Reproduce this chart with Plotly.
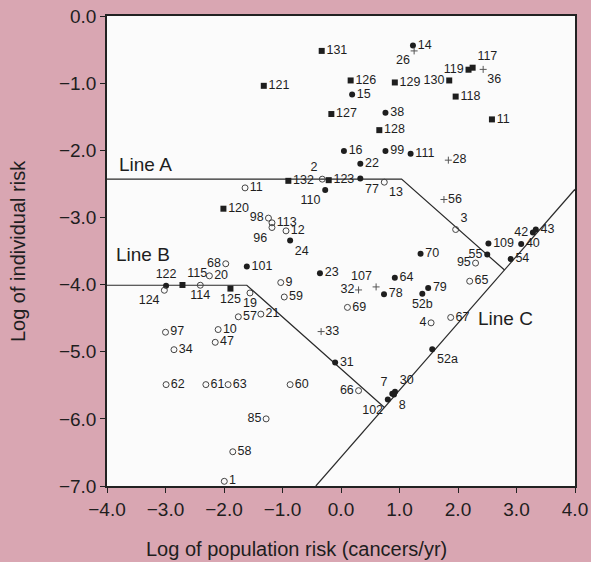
import plotly.graph_objects as go

# ---- data (log population risk, log individual risk) ----
sq_labels = ["121", "131", "126", "129", "130", "119", "117", "118", "127", "11", "128",
             "132", "123", "120", "115", "125"]
sq_x = [-1.32, -0.33, 0.165, 0.92, 1.85, 2.18, 2.25, 1.96, -0.165, 2.58, 0.655,
        -0.90, -0.21, -2.01, -2.71, -1.89]
sq_y = [-1.04, -0.52, -0.96, -0.99, -0.96, -0.80, -0.77, -1.20, -1.46, -1.54, -1.70,
        -2.455, -2.445, -2.87, -4.006, -4.06]
sq_pos = ["middle right", "middle right", "middle right", "middle right", "middle left",
          "middle left", "top right", "middle right", "middle right", "middle right",
          "middle right", "middle right", "middle right", "middle right", "top right",
          "bottom center"]

fc_labels = ["14", "15", "38", "16", "99", "111", "22", "77", "110", "24", "101", "122",
             "23", "78", "64", "52b", "79", "70", "109", "55", "42", "43", "40", "54",
             "52a", "31", "7", "30", "8", "102"]
fc_x = [1.23, 0.19, 0.76, 0.05, 0.76, 1.19, 0.33, 0.33, -0.27, -0.87, -1.61, -2.99,
        -0.36, 0.735, 0.92, 1.39, 1.49, 1.36, 2.52, 2.50, 3.28, 3.33, 3.08, 2.90,
        1.56, -0.10, 0.877, 0.923, 0.906, 0.80]
fc_y = [-0.44, -1.17, -1.44, -2.01, -2.01, -2.05, -2.20, -2.42, -2.59, -3.345, -3.73,
        -4.016, -3.83, -4.145, -3.90, -4.135, -4.05, -3.54, -3.39, -3.553, -3.225,
        -3.18, -3.395, -3.62, -4.965, -5.16, -5.626, -5.596, -5.636, -5.71]
fc_pos = ["middle right", "middle right", "middle right", "middle right", "middle right",
          "middle right", "middle right", "bottom right", "bottom left", "bottom right",
          "middle right", "top center", "middle right", "middle right", "middle right",
          "bottom center", "middle right", "middle right", "middle right", "middle left",
          "middle left", "middle right", "middle right", "middle right", "bottom right",
          "middle right", "top left", "top right", "bottom right", "bottom left"]

oc_labels = ["2", "13", "11", "98", "113", "96", "12", "68", "20", "124", "114", "19",
             "9", "59", "57", "21", "97", "34", "10", "47", "62", "61", "63", "60", "85",
             "58", "1", "69", "66", "3", "95", "65", "67", "4"]
oc_x = [-0.32, 0.74, -1.64, -1.24, -1.18, -1.18, -0.94, -1.97, -2.25, -3.02, -2.405,
        -1.556, -1.03, -0.97, -1.755, -1.37, -3.0, -2.855, -2.10, -2.15, -2.99, -2.31,
        -1.93, -0.87, -1.28, -1.85, -1.995, 0.11, 0.30, 1.96, 2.30, 2.20, 1.875, 1.54]
oc_y = [-2.43, -2.475, -2.56, -3.01, -3.08, -3.15, -3.20, -3.69, -3.87, -4.085, -4.01,
        -4.125, -3.97, -4.185, -4.48, -4.44, -4.71, -4.97, -4.67, -4.86, -5.49, -5.49,
        -5.49, -5.49, -6.00, -6.49, -6.93, -4.34, -5.58, -3.18, -3.68, -3.95, -4.49,
        -4.57]
oc_pos = ["top left", "bottom right", "middle right", "middle left", "middle right",
          "bottom left", "middle right", "middle left", "middle right", "bottom left",
          "bottom center", "bottom center", "middle right", "middle right", "middle right",
          "middle right", "middle right", "middle right", "middle right", "middle right",
          "middle right", "middle right", "middle right", "middle right", "middle left",
          "middle right", "middle right", "middle right", "middle left", "top right",
          "middle left", "middle right", "middle right", "middle left"]

pl_labels = ["26", "36", "28", "56", "32", "107", "33"]
pl_x = [1.25, 2.43, 1.835, 1.76, 0.30, 0.60, -0.34]
pl_y = [-0.52, -0.795, -2.147, -2.733, -4.08, -4.035, -4.70]
pl_pos = ["bottom left", "bottom right", "middle right", "middle right", "middle left",
          "top left", "middle right"]

lineA_x = [-4.0, 1.036, 2.795]
lineA_y = [-2.43, -2.43, -3.784]
lineB_x = [-4.0, -1.61, 0.7425]
lineB_y = [-4.01, -4.01, -5.831]
lineC_x = [-0.43, 4.0]
lineC_y = [-7.0, -2.58]

line_names = ["Line A", "Line B", "Line C"]
line_label_x = [-3.35, -3.38, 2.82]
line_label_y = [-2.207, -3.55, -4.507]

x_ticks = [-4, -3, -2, -1, 0, 1, 2, 3, 4]
y_ticks = [0, -1, -2, -3, -4, -5, -6, -7]

INK = "#1e1e1e"
FONT = "Liberation Sans, Arial, Helvetica, sans-serif"
PINK = "#d9a6b2"

fig = go.Figure()

for lx, ly in [(lineA_x, lineA_y), (lineB_x, lineB_y), (lineC_x, lineC_y)]:
    fig.add_trace(go.Scatter(x=lx, y=ly, mode="lines",
                             line=dict(color="#2a2a2a", width=1.2),
                             hoverinfo="skip", showlegend=False))

lab_font = dict(family=FONT, size=12.5, color=INK)

fig.add_trace(go.Scatter(x=sq_x, y=sq_y, text=sq_labels, textposition=sq_pos,
                         mode="markers+text", textfont=lab_font,
                         marker=dict(symbol="square", size=6, color=INK),
                         showlegend=False))
fig.add_trace(go.Scatter(x=fc_x, y=fc_y, text=fc_labels, textposition=fc_pos,
                         mode="markers+text", textfont=lab_font,
                         marker=dict(symbol="circle", size=6, color=INK),
                         showlegend=False))
fig.add_trace(go.Scatter(x=oc_x, y=oc_y, text=oc_labels, textposition=oc_pos,
                         mode="markers+text", textfont=lab_font,
                         marker=dict(symbol="circle-open", size=6, color="#444444",
                                     line=dict(width=1)),
                         showlegend=False))
fig.add_trace(go.Scatter(x=pl_x, y=pl_y, text=pl_labels, textposition=pl_pos,
                         mode="markers+text", textfont=lab_font,
                         marker=dict(symbol="cross-thin", size=5, color="#555555",
                                     line=dict(width=1, color="#555555")),
                         showlegend=False))

for name, tx, ty in zip(line_names, line_label_x, line_label_y):
    fig.add_annotation(x=tx, y=ty, text=name, showarrow=False,
                       xanchor="center", yanchor="middle",
                       font=dict(family=FONT, size=19, color=INK))

fig.add_annotation(x=0.404, y=-0.133, xref="paper", yref="paper",
                   xanchor="center", yanchor="middle",
                   text="Log of population risk (cancers/yr)",
                   showarrow=False, font=dict(family=FONT, size=20, color=INK))
fig.add_annotation(x=-0.19, y=0.5, xref="paper", yref="paper",
                   xanchor="center", yanchor="middle",
                   text="Log of individual risk",
                   textangle=-90, showarrow=False, font=dict(family=FONT, size=20, color=INK))

axis_common = dict(showgrid=False, zeroline=False, showline=True, linecolor="#222222",
                   linewidth=1.5, mirror=True, ticks="outside", ticklen=5, tickwidth=1.2,
                   tickcolor="#222222", tickfont=dict(family=FONT, size=19, color=INK),
                   tickformat=".1f", automargin=False)

fig.update_xaxes(range=[-4, 4], tickvals=x_ticks, **axis_common)
fig.update_yaxes(range=[-7, 0], tickvals=y_ticks, **axis_common)

fig.update_layout(width=591, height=562, margin=dict(l=107, r=16, t=16, b=76, autoexpand=False),
                  paper_bgcolor=PINK, plot_bgcolor="#fbfbfb", showlegend=False,
                  font=dict(family=FONT, color=INK))

fig.write_html("out.html", config={"displayModeBar": False},
               post_script="document.body.style.margin='0';document.body.style.overflow='hidden';")
